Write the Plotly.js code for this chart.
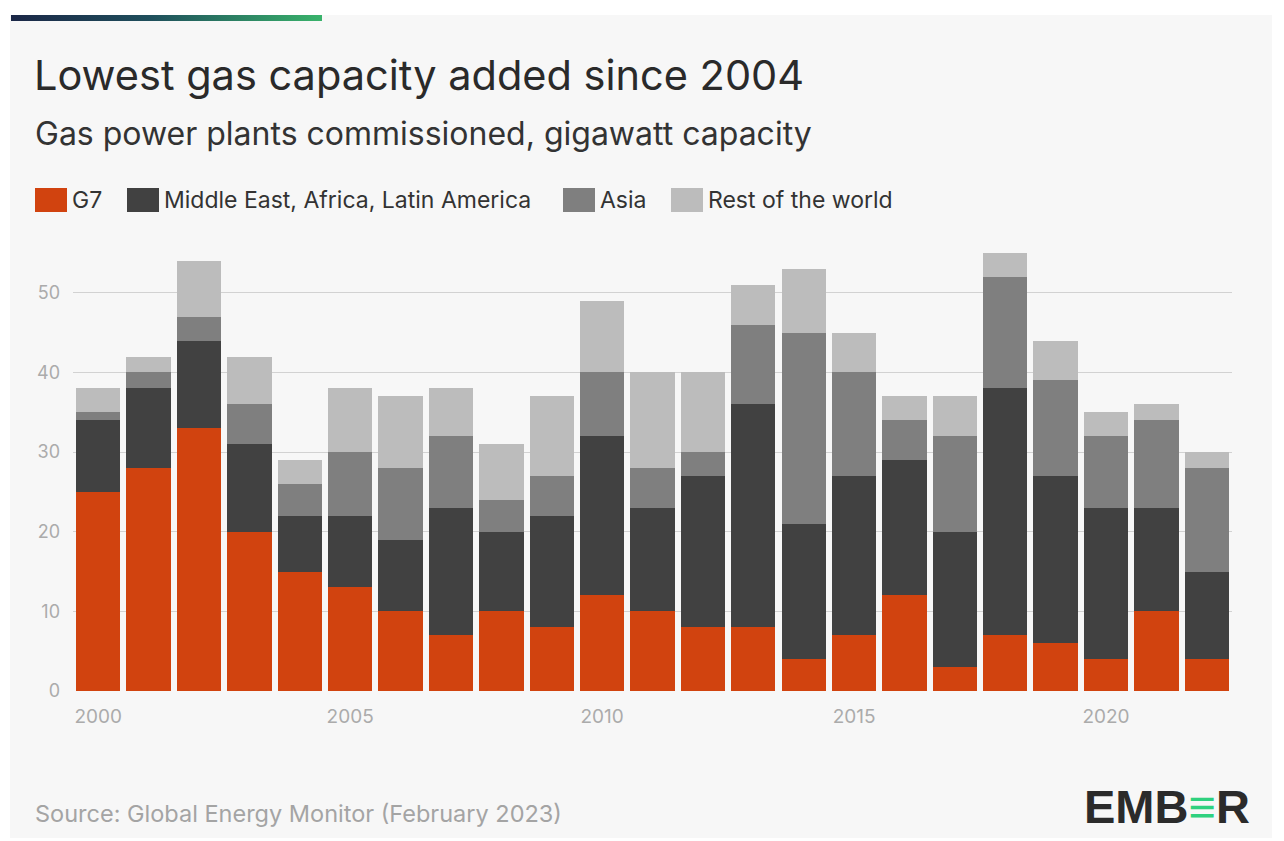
<!DOCTYPE html>
<html>
<head>
<meta charset="utf-8">
<script src="https://cdn.plot.ly/plotly-3.0.1.min.js"></script>
<style>
  html, body { margin: 0; padding: 0; background: #ffffff; width: 1284px; height: 841px; overflow: hidden; }
  #card { position: absolute; left: 10px; top: 15px; width: 1262px; height: 823px; background: #f7f7f7; }
  #bar { position: absolute; left: 11px; top: 15px; width: 311px; height: 6px;
         background: linear-gradient(90deg, #1b2747 0%, #1f4f5c 45%, #39b36b 100%); z-index: 5; }
  #chart { position: absolute; left: 10px; top: 15px; width: 1262px; height: 823px; }
</style>
</head>
<body>
<div id="card"></div>
<div id="bar"></div>
<div id="chart"></div>
<script>
// ---- data ----
const years = [2000, 2001, 2002, 2003, 2004, 2005, 2006, 2007, 2008, 2009, 2010, 2011,
               2012, 2013, 2014, 2015, 2016, 2017, 2018, 2019, 2020, 2021, 2022];
const g7   = [25, 28, 33, 20, 15, 13, 10, 7, 10, 8, 12, 10, 8, 8, 4, 7, 12, 3, 7, 6, 4, 10, 4];
const mea  = [9, 10, 11, 11, 7, 9, 9, 16, 10, 14, 20, 13, 19, 28, 17, 20, 17, 17, 31, 21, 19, 13, 11];
const asia = [1, 2, 3, 5, 4, 8, 9, 9, 4, 5, 8, 5, 3, 10, 24, 13, 5, 12, 14, 12, 9, 11, 13];
const rest = [3, 2, 7, 6, 3, 8, 9, 6, 7, 10, 9, 12, 10, 5, 8, 5, 3, 5, 3, 5, 3, 2, 2];
const seriesNames = ["G7", "Middle East, Africa, Latin America", "Asia", "Rest of the world"];
const seriesColors = ["#d1430f", "#414141", "#7f7f7f", "#bcbcbc"];
const yTicks = [0, 10, 20, 30, 40, 50];
const xTicks = [2000, 2005, 2010, 2015, 2020];
const titleText = "Lowest gas capacity added since 2004";
const subtitleText = "Gas power plants commissioned, gigawatt capacity";
const sourceText = "Source: Global Energy Monitor (February 2023)";

const values = [g7, mea, asia, rest];
const traces = values.map((v, i) => ({
  type: "bar",
  x: years,
  y: v,
  name: seriesNames[i],
  marker: { color: seriesColors[i], line: { width: 0 } },
  showlegend: false,
  hoverinfo: "x+y+name"
}));

// plot area in chart-div pixels
const W = 1262, H = 823;
const mL = 63, mR = 40, mT = 238, mB = 147;
const pw = W - mL - mR, ph = H - mT - mB;
const px = x => (x - 10 - mL) / pw;        // page x -> paper x
const py = y => (H - mB - (y - 15)) / ph;  // page y -> paper y

// custom legend (swatches + text)
const legX = [35, 127, 563, 671];
const legY = 200;
const shapes = [];
const annotations = [];
seriesNames.forEach((n, i) => {
  shapes.push({
    type: "rect", xref: "paper", yref: "paper", layer: "above",
    x0: px(legX[i]), x1: px(legX[i] + 32),
    y0: py(legY + 12), y1: py(legY - 12),
    fillcolor: seriesColors[i], line: { width: 0 }
  });
  annotations.push({
    xref: "paper", yref: "paper", x: px(legX[i] + 35), y: py(legY),
    xanchor: "left", yanchor: "middle", showarrow: false,
    text: n, font: { family: "Inter, sans-serif", size: 23, color: "#333333" }
  });
});

annotations.push({
  xref: "paper", yref: "paper", x: px(32), y: py(75),
  xanchor: "left", yanchor: "middle", showarrow: false,
  text: titleText, font: { family: "Inter, sans-serif", size: 41.5, color: "#2a2a2a" }
});
annotations.push({
  xref: "paper", yref: "paper", x: px(33), y: py(133),
  xanchor: "left", yanchor: "middle", showarrow: false,
  text: subtitleText, font: { family: "Inter, sans-serif", size: 32, color: "#333333" }
});
annotations.push({
  xref: "paper", yref: "paper", x: px(33), y: py(813),
  xanchor: "left", yanchor: "middle", showarrow: false,
  text: sourceText, font: { family: "Inter, sans-serif", size: 23.5, color: "#a4a4a4" }
});
annotations.push({
  xref: "paper", yref: "paper", x: px(1252), y: py(806),
  xanchor: "right", yanchor: "middle", showarrow: false,
  text: "<b>EMB<span style='color:#2fd17f'>≡</span>R</b>",
  font: { family: "Liberation Sans, Arial, sans-serif", size: 47, color: "#2b2b2b" }
});

const layout = {
  width: W, height: H,
  paper_bgcolor: "rgba(0,0,0,0)",
  plot_bgcolor: "rgba(0,0,0,0)",
  margin: { l: mL, r: mR, t: mT, b: mB, pad: 0 },
  barmode: "stack",
  bargap: 0.12,
  showlegend: false,
  font: { family: "Inter, sans-serif" },
  xaxis: {
    range: [1999.5, 2022.5],
    tickmode: "array", tickvals: xTicks, ticktext: xTicks.map(String),
    showgrid: false, zeroline: false, showline: false,
    ticks: "", ticklen: 0, ticklabelstandoff: 12,
    tickfont: { size: 19, color: "#ababab", family: "Inter, sans-serif" },
    fixedrange: true
  },
  yaxis: {
    range: [0, 55],
    tickmode: "array", tickvals: yTicks, ticktext: yTicks.map(String),
    showgrid: true, gridcolor: "#d2d2d2", gridwidth: 1,
    zeroline: false, showline: false,
    ticks: "", ticklabelstandoff: 12,
    tickfont: { size: 18, color: "#ababab", family: "Inter, sans-serif" },
    fixedrange: true
  },
  shapes: shapes,
  annotations: annotations
};

Plotly.newPlot("chart", traces, layout, { displayModeBar: false, staticPlot: true });
</script>
</body>
</html>
